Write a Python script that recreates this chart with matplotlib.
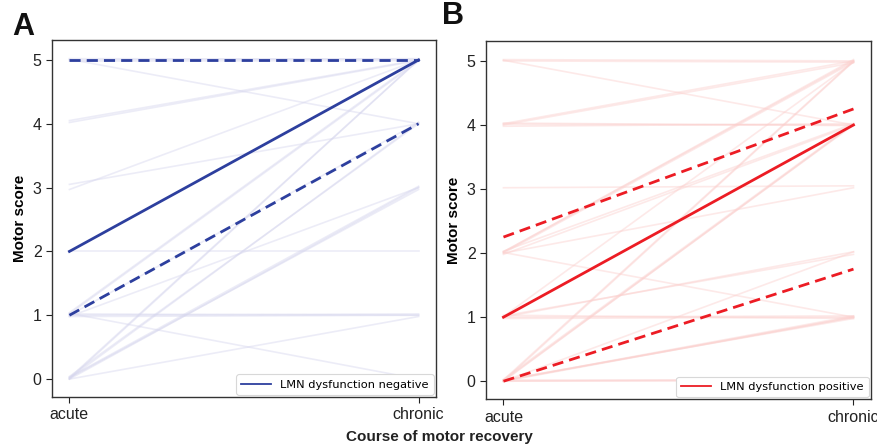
import matplotlib
matplotlib.use("Agg")
import matplotlib.pyplot as plt
from matplotlib.lines import Line2D

plt.rcParams["font.family"] = ["Liberation Sans", "DejaVu Sans"]

timepoints = ["acute", "chronic"]

# individual patients, LMN dysfunction negative (acute, chronic)
neg_acute = [5.02, 5.00, 4.98, 5.01, 4.05, 4.02, 3.05, 2.97, 2.00, 1.02, 1.00,
             0.98, 1.03, 0.98, 1.04, 1.02, 1.00, 0.00, 0.02, 0.00, 0.04, 0.00,
             0.02, 0.03, 0.01]
neg_chronic = [5.01, 5.02, 4.99, 4.00, 5.00, 4.99, 4.00, 5.00, 2.00, 1.00, 1.02,
               1.00, 0.00, 3.00, 5.00, 4.98, 4.02, 0.98, 5.00, 5.00, 4.00, 3.00,
               2.97, 3.02, 4.02]

# individual patients, LMN dysfunction positive (acute, chronic)
pos_acute = [5.02, 5.00, 5.01, 4.02, 4.00, 3.98, 4.01, 4.03, 3.02, 2.02, 2.00,
             1.98, 2.03, 2.01, 2.00, 1.00, 1.02, 0.98, 1.00, 1.03, 0.02, 0.00,
             0.01, 0.03, 0.00, 0.00, 0.02, 0.01, 0.00, 0.02, 0.00, 0.00, 1.01,
             2.02, 0.01]
pos_chronic = [5.00, 4.98, 4.00, 5.00, 4.97, 4.02, 4.00, 3.99, 3.05, 5.00, 4.98,
               4.00, 4.02, 1.00, 3.02, 2.02, 1.98, 1.00, 1.02, 0.98, 5.00, 4.99,
               4.00, 4.02, 4.01, 1.00, 0.98, 1.02, 0.00, 0.02, 0.03, 2.02, 4.98,
               5.02, 1.00]

# summary lines: median and quartiles
neg_median = [2.0, 5.0]
neg_q_low = [1.0, 4.0]
neg_q_high = [5.0, 5.0]
pos_median = [1.0, 4.0]
pos_q_low = [0.0, 1.75]
pos_q_high = [2.25, 4.25]

blue = "#2d3f9e"
red = "#ec1c24"


def draw_panel(ax, acute, chronic, median, q_low, q_high, color, light, label):
  x = [0, 1]
  for a, c in zip(acute, chronic):
    ax.plot(x, [a, c], color=light, alpha=0.45, linewidth=1.2, zorder=1)
  ax.plot(x, median, color=color, linewidth=2.0, zorder=3)
  ax.plot(x, q_low, color=color, linewidth=2.0, linestyle=(0, (4, 2.2)), zorder=3)
  ax.plot(x, q_high, color=color, linewidth=2.0, linestyle=(0, (4, 2.2)), zorder=3)

  ax.set_xlim(-0.05, 1.05)
  ax.set_ylim(-0.28, 5.31)
  ax.set_xticks(x)
  ax.set_xticklabels(timepoints)
  ax.set_yticks(range(6))
  ax.tick_params(direction="out", length=4, width=0.8, labelsize=11.5,
                 colors="#222222")
  for spine in ax.spines.values():
    spine.set_color("#333333")
    spine.set_linewidth(1.0)
  ax.set_ylabel("Motor score", fontsize=11, fontweight="bold", labelpad=4)

  handle = Line2D([0], [0], color=color, linewidth=1.3)
  leg = ax.legend([handle], [label], loc="lower right",
                  prop={"family": "DejaVu Sans", "size": 8.2},
                  borderaxespad=0.2, borderpad=0.45, handlelength=2.6,
                  handletextpad=0.8, fancybox=True, framealpha=1.0)
  leg.get_frame().set_edgecolor("#d8d8d8")
  leg.get_frame().set_linewidth(0.8)


fig = plt.figure(figsize=(8.78, 4.46), dpi=100)
ax_a = fig.add_axes([0.0592, 0.110, 0.4374, 0.800])
ax_b = fig.add_axes([0.5535, 0.105, 0.4385, 0.803])

draw_panel(ax_a, neg_acute, neg_chronic, neg_median, neg_q_low, neg_q_high,
           blue, "#d6d6ee", "LMN dysfunction negative")
draw_panel(ax_b, pos_acute, pos_chronic, pos_median, pos_q_low, pos_q_high,
           red, "#fbcfcd", "LMN dysfunction positive")

fig.text(0.014, 0.972, "A", fontsize=22, fontweight="bold", color="#111111",
         va="top")
fig.text(0.503, 0.998, "B", fontsize=22, fontweight="bold", color="#111111",
         va="top")
fig.text(0.5, 0.004, "Course of motor recovery", ha="center", va="bottom",
         fontsize=11, fontweight="bold", color="#222222")

fig.savefig("out.png", dpi=100, facecolor="white")
